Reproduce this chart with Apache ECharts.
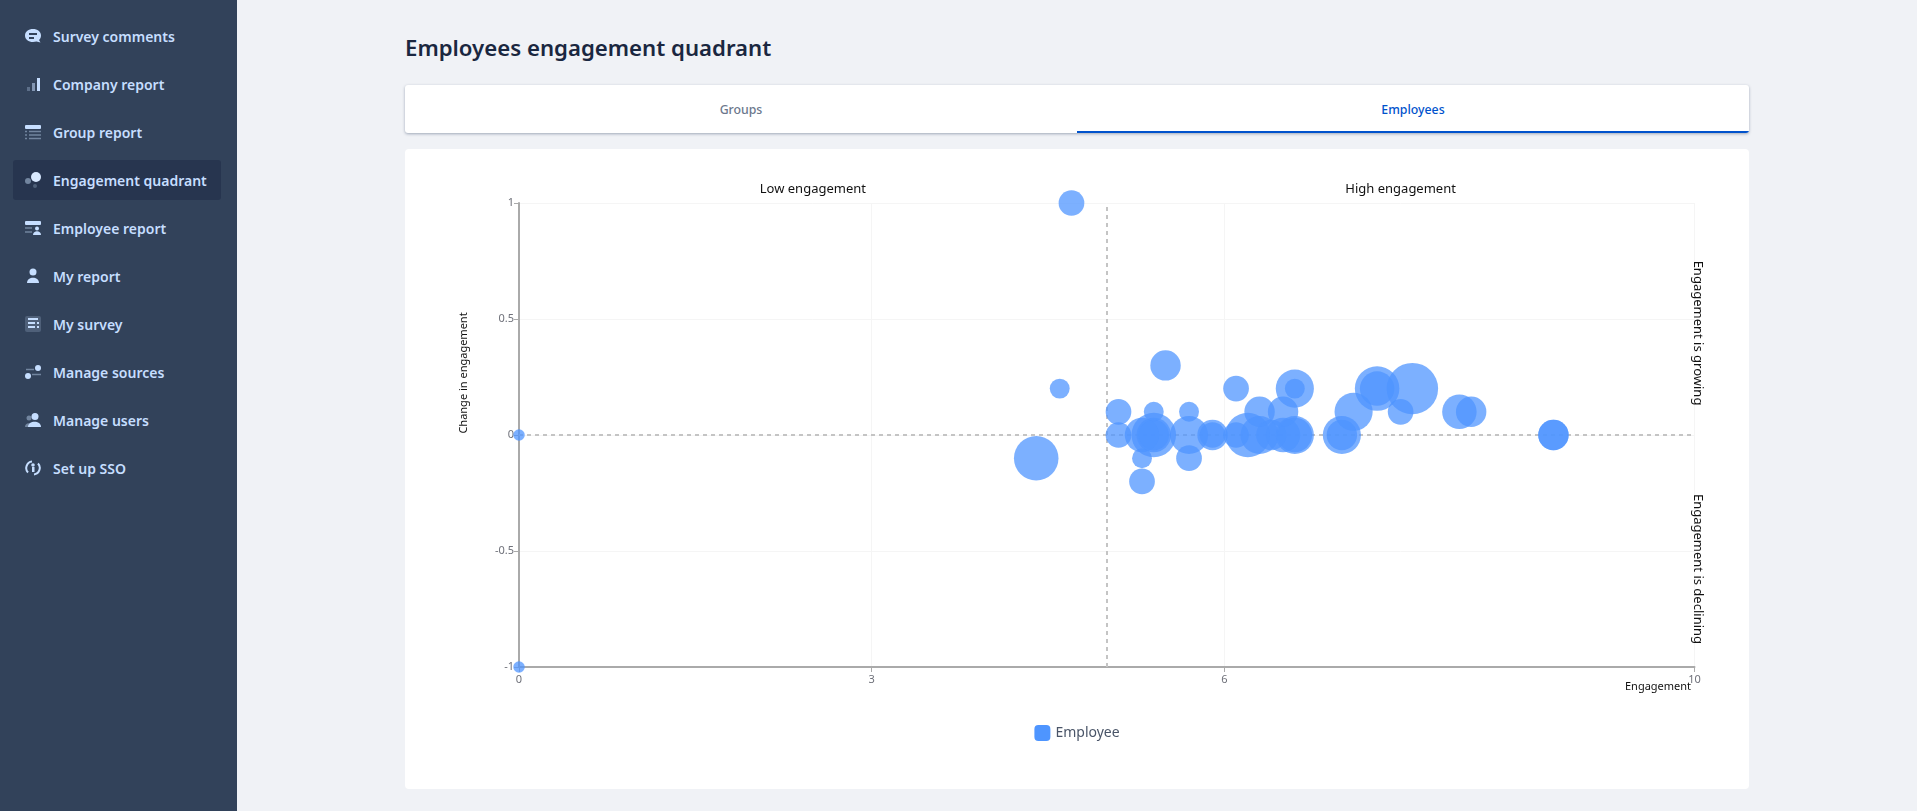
<!DOCTYPE html>
<html>
	<head>
		<meta charset="utf-8">
		<title>Employees engagement quadrant</title>
		<script src="https://cdn.jsdelivr.net/npm/echarts@6/dist/echarts.min.js"></script>
		<style>
			html, body { margin: 0; padding: 0; width: 1917px; height: 811px; overflow: hidden; background: #f0f2f6; font-family: "Noto Sans", sans-serif; }
			#side { position: absolute; left: 0; top: 0; width: 237px; height: 811px; background: #32425a; }
			.item { position: absolute; left: 13px; width: 208px; height: 40px; line-height: 41px; border-radius: 3px; color: #c6deff; font-size: 14px; font-weight: 600; white-space: nowrap; }
			.item.on { background: #27354f; }
			.item span { position: absolute; left: 40px; top: 0; }
			.item svg { position: absolute; left: 12px; top: 12px; width: 16px; height: 16px; }
			#title { position: absolute; left: 405px; top: 31px; font-size: 22.2px; font-weight: 600; color: #1a2740; line-height: 34px; white-space: nowrap; }
			#tabs { position: absolute; left: 405px; top: 85px; width: 1344px; height: 48px; background: #fff; border-radius: 3px; box-shadow: 0 1px 3px rgba(9,30,66,.35); overflow: hidden; }
			.tab { position: absolute; top: 0; width: 672px; height: 48px; line-height: 50px; text-align: center; font-size: 12.3px; font-weight: 500; color: #6b778c; }
			.tab.on { color: #0052cc; height: 46px; border-bottom: 2px solid #0052cc; }
			#card { position: absolute; left: 405px; top: 149px; width: 1344px; height: 640px; background: #fff; border-radius: 4px; }
			#box { width: 1344px; height: 640px; }
		</style>
	</head>
	<body>
		<div id="side">
			<div class="item" style="top:16px"><svg viewBox="0 0 16 16"><path fill="#c6deff" d="M8 1c4.400 0 8 2.500 8 6.500 0 2-1 3.500-2 4.500l1.500 2.500-4-1c-1 .3-2.300.5-3.500.5-4.400 0-8-2.500-8-6.500S3.600 1 8 1z"/><rect x="4" y="5" width="8" height="2" fill="#32425a"/><rect x="4" y="9" width="5" height="2" fill="#32425a"/></svg><span>Survey comments</span></div>
			<div class="item" style="top:64px"><svg viewBox="0 0 16 16"><rect x="2" y="11" width="3" height="4" fill="#5d6f89"/><rect x="7" y="7" width="3" height="8" fill="#8296b3"/><rect x="12" y="2" width="3" height="13" fill="#c6deff"/></svg><span>Company report</span></div>
			<div class="item" style="top:112px"><svg viewBox="0 0 16 16"><rect x="0" y="1" width="16" height="4" rx="1" fill="#c6deff"/><path stroke="#72859f" stroke-width="1.500" d="M0 7.500h2M4 7.500h12M0 11h2M4 11h12M0 14.500h2M4 14.500h12"/></svg><span>Group report</span></div>
			<div class="item on" style="top:160px"><svg viewBox="0 0 16 16"><circle cx="3" cy="9" r="3" fill="#72859f"/><circle cx="11" cy="5" r="5" fill="#d9e9ff"/><circle cx="10" cy="14" r="2" fill="#4f6079"/></svg><span>Engagement quadrant</span></div>
			<div class="item" style="top:208px"><svg viewBox="0 0 16 16"><rect x="0" y="1" width="16" height="4" rx="1" fill="#c6deff"/><path stroke="#72859f" stroke-width="1.500" d="M0 8h7M0 12h7"/><circle cx="12" cy="8.500" r="2" fill="#c6deff"/><path fill="#c6deff" d="M8 15c0-5 8-5 8 0z"/></svg><span>Employee report</span></div>
			<div class="item" style="top:256px"><svg viewBox="0 0 16 16"><circle cx="8" cy="4" r="3.500" fill="#c6deff"/><path fill="#c6deff" d="M2 15c0-7 12-7 12 0z"/></svg><span>My report</span></div>
			<div class="item" style="top:304px"><svg viewBox="0 0 16 16"><rect x="0" y="0" width="16" height="16" rx="2" fill="#4f6079"/><rect x="3" y="0" width="10" height="16" fill="#4f6079"/><path stroke="#c6deff" stroke-width="1.800" d="M3 3h10M3 7h7M3 11h7M12 7h2M12 11h2"/></svg><span>My survey</span></div>
			<div class="item" style="top:352px"><svg viewBox="0 0 16 16"><circle cx="3" cy="12" r="3" fill="#c6deff"/><circle cx="13" cy="4" r="3" fill="#c6deff"/><path stroke="#72859f" stroke-width="1.500" d="M1 5.500h8M7 10.500h9"/></svg><span>Manage sources</span></div>
			<div class="item" style="top:400px"><svg viewBox="0 0 16 16"><circle cx="4" cy="6" r="2.500" fill="#72859f"/><path fill="#72859f" d="M0 15c0-5 7-5 7 0z"/><circle cx="10" cy="4.500" r="3.500" fill="#c6deff"/><path fill="#c6deff" d="M3 15c0-7 13-7 13 0z"/></svg><span>Manage users</span></div>
			<div class="item" style="top:448px"><svg viewBox="0 0 16 16"><path fill="none" stroke="#c6deff" stroke-width="2" d="M3 12.500A6.500 6.500 0 0 1 7 1.600M13 3.500A6.500 6.500 0 0 1 9 14.400"/><rect x="7" y="7" width="2.500" height="5" fill="#c6deff"/><circle cx="8" cy="5" r="1.800" fill="#c6deff"/></svg><span>Set up SSO</span></div>
		</div>
		<div id="title">Employees engagement quadrant</div>
		<div id="tabs">
			<div class="tab" style="left:0">Groups</div>
			<div class="tab on" style="left:672px">Employees</div>
		</div>
		<div id="card"><div id="box"></div></div>
		<script>
			var engagement = [0, 0, 4.4, 4.6, 4.7, 5.1, 5.1, 5.3, 5.3, 5.3, 5.4, 5.4, 5.4, 5.4, 5.5, 5.7, 5.7, 5.7, 5.9, 5.9, 6.1, 6.1, 6.2, 6.3, 6.3, 6.4, 6.5, 6.5, 6.6, 6.6, 6.6, 6.6, 7, 7, 7.1, 7.3, 7.3, 7.5, 7.6, 8, 8.1, 8.8, 8.8]
			var change = [0, -1, -0.1, 0.2, 1, 0.1, 0, -0.1, -0.2, 0, 0.1, 0, 0, 0, 0.3, 0.1, 0, -0.1, 0, 0, 0.2, 0, 0, 0.1, 0, 0, 0.1, 0, 0.2, 0.2, 0, 0, 0, 0, 0.1, 0.2, 0.2, 0.1, 0.2, 0.1, 0.1, 0, 0]
			var people = [1, 1, 15, 3, 5, 5, 5, 3, 5, 9, 3, 15, 9, 7, 7, 3, 11, 5, 7, 5, 5, 5, 15, 7, 11, 7, 7, 9, 11, 3, 11, 9, 11, 7, 11, 15, 9, 5, 20, 9, 7, 7, 7]
			var xTicks = [0, 3, 6, 10]
			var seriesName = 'Employee'
			var quadrantTop = ['Low engagement', 'High engagement']

			var mCharts = echarts.init(document.querySelector('#box'))
			var font = '"Noto Sans", sans-serif'
			var scatterData = engagement.map(function(x, i) {
				return [x, change[i], people[i]]
			})

			var sideText = function(text, x, y, rotation, size) {
				return {
					type: 'text',
					x: x,
					y: y,
					z: 10, // the split line on the right runs under the rotated labels
					rotation: rotation,
					silent: true,
					style: { text: text, fill: '#111', font: size + 'px ' + font, align: 'center', verticalAlign: 'middle' }
				}
			}

			var option = {
				animation: false,
				textStyle: { fontFamily: font },
				grid: { left: 114, right: 54.5, top: 54, bottom: 122 },
				legend: {
					bottom: 43,
					left: 'center',
					icon: 'roundRect',
					itemWidth: 16,
					itemHeight: 16,
					itemGap: 10,
					itemStyle: { opacity: 1 },
					textStyle: { fontSize: 14, color: '#4a5568', fontFamily: font }
				},
				xAxis: {
					type: 'value',
					min: 0,
					max: 10,
					axisLine: { onZero: false, lineStyle: { color: '#aaa', width: 2 } },
					axisTick: { show: true, length: 5, customValues: xTicks, lineStyle: { color: '#aaa' } },
					axisLabel: { customValues: xTicks, color: '#6e7079', fontSize: 11, margin: 7, showMinLabel: true, showMaxLabel: true },
					splitLine: { show: true, lineStyle: { color: '#f5f5f5' } }
				},
				yAxis: {
					type: 'value',
					min: -1,
					max: 1,
					interval: 0.5,
					axisLine: { show: true, onZero: false, lineStyle: { color: '#aaa', width: 2 } },
					axisTick: { show: true, length: 5, lineStyle: { color: '#aaa' } },
					axisLabel: { color: '#6e7079', fontSize: 11, margin: 5 },
					splitLine: { show: true, lineStyle: { color: '#f5f5f5' } }
				},
				graphic: [
					sideText('Change in engagement', 59, 224, Math.PI / 2, 11),
					sideText('Engagement is growing', 1293, 184, -Math.PI / 2, 13),
					sideText('Engagement is declining', 1293, 420, -Math.PI / 2, 13),
					sideText('Engagement', 1253, 538, 0, 11)
				],
				series: [{
					name: seriesName,
					type: 'scatter',
					clip: false,
					data: scatterData,
					// the area of a bubble follows the number of people
					symbolSize: function(val) {
						return 11.5 * Math.sqrt(val[2])
					},
					itemStyle: { color: '#4e95ff', opacity: 0.74 },
					markLine: {
						silent: true,
						z: 1,
						symbol: 'none',
						label: { show: false },
						lineStyle: { type: [4, 4], color: '#c4c4c4', width: 2 },
						data: [{ xAxis: 5 }, { yAxis: 0 }]
					},
					markArea: {
						silent: true,
						itemStyle: { color: 'transparent' },
						label: { position: 'top', distance: 7, color: '#111', fontSize: 13, fontFamily: font },
						data: [
							[{ name: quadrantTop[0], coord: [0, 1] }, { coord: [5, 0] }],
							[{ name: quadrantTop[1], coord: [5, 1] }, { coord: [10, 0] }]
						]
					}
				}]
			}
			mCharts.setOption(option)
		</script>
	</body>
</html>
